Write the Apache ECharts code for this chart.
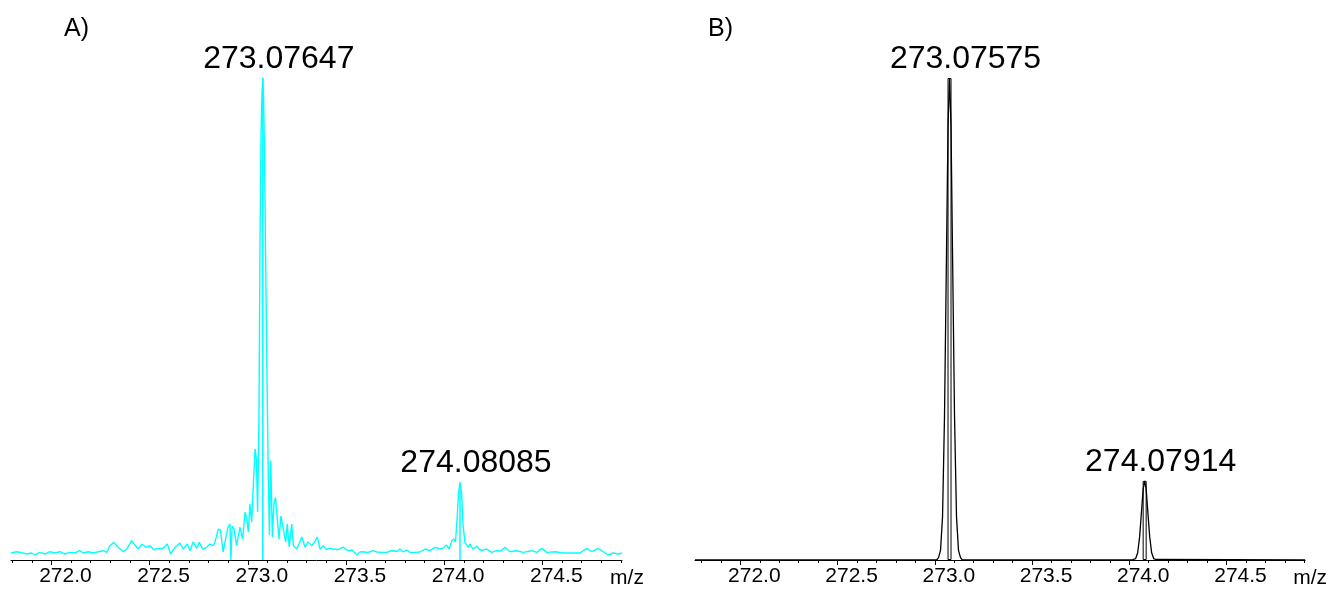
<!DOCTYPE html>
<html><head><meta charset="utf-8">
<script src="https://cdn.jsdelivr.net/npm/echarts@6/dist/echarts.min.js"></script>
<style>html,body{margin:0;padding:0;background:#fff}#c{width:1330px;height:589px}</style>
</head><body><div id="c"></div>
<script>
const panelTitles = ['A)', 'B)'];
const axisName = 'm/z';
const tickValues = [272.0, 272.5, 273.0, 273.5, 274.0, 274.5];
const minorTickValues = [271.8, 271.9, 272.1, 272.2, 272.3, 272.4, 272.6, 272.7, 272.8, 272.9,
  273.1, 273.2, 273.3, 273.4, 273.6, 273.7, 273.8, 273.9, 274.1, 274.2, 274.3, 274.4, 274.6, 274.7, 274.8, 274.9];

// Panel A: measured spectrum (m/z, relative intensity %)
const spectrumA = [
 [271.794,1.45],[271.797,1.45],[271.823,1.72],[271.843,1.59],[271.874,1.24],[271.899,1.45],[271.916,1.04],
 [271.941,1.59],[271.967,1.24],[271.992,1.72],[272.018,1.45],[272.043,1.72],[272.069,1.24],[272.094,1.59],
 [272.120,1.45],[272.142,1.93],[272.162,1.45],[272.187,1.72],[272.213,1.45],[272.238,1.72],[272.264,1.93],
 [272.281,1.59],[272.298,2.96],[272.318,3.66],[272.340,2.63],[272.366,1.72],[272.383,2.28],[272.409,4.0],
 [272.425,3.1],[272.442,2.28],[272.460,3.31],[272.480,2.63],[272.502,2.96],[272.522,2.13],[272.544,2.42],
 [272.570,2.42],[272.590,3.31],[272.607,1.24],[272.629,2.63],[272.655,3.52],[272.671,2.28],[272.692,3.31],
 [272.706,1.93],[272.722,3.79],[272.740,2.42],[272.753,3.66],[272.770,2.28],[272.791,2.63],[272.807,3.31],
 [272.824,2.96],[272.833,3.73],[272.850,6.42],[272.861,6.21],[272.874,1.66],[272.886,4.14],[272.899,6.83],
 [272.909,7.45],[272.914,0],[272.920,7.04],[272.930,6.42],[272.943,2.96],[272.960,6.83],[272.974,4.35],
 [272.986,9.94],[272.994,8.9],[273.003,5.8],[273.011,11.6],[273.020,7.87],[273.026,13.7],[273.037,23.0],
 [273.044,20.9],[273.050,9.94],[273.057,29.2],[273.062,64.4],[273.067,87.2],[273.072,96.5],[273.0765,100],
 [273.080,96.5],[273.085,85.1],[273.091,62.3],[273.098,37.5],[273.104,18.8],[273.110,5.18],[273.117,20.6],
 [273.125,4.76],[273.133,11.6],[273.141,13.0],[273.149,12.6],[273.159,4.35],[273.169,9.17],[273.179,8.9],
 [273.193,3.73],[273.201,7.45],[273.211,2.69],[273.224,7.45],[273.232,2.96],[273.249,2.28],[273.261,3.31],
 [273.275,4.76],[273.291,2.69],[273.307,3.73],[273.326,2.96],[273.337,3.52],[273.354,4.76],[273.368,2.28],
 [273.383,2.96],[273.402,2.13],[273.419,2.48],[273.434,2.28],[273.459,2.13],[273.486,2.69],[273.510,1.93],
 [273.531,2.07],[273.555,1.04],[273.572,1.66],[273.587,1.72],[273.612,1.55],[273.638,1.93],[273.658,1.66],
 [273.682,1.59],[273.708,1.59],[273.724,1.86],[273.741,1.93],[273.760,1.76],[273.775,2.28],[273.791,1.66],
 [273.809,2.07],[273.826,1.59],[273.852,1.59],[273.877,1.66],[273.903,2.28],[273.928,1.93],[273.954,2.63],
 [273.979,2.28],[273.994,2.48],[274.013,3.1],[274.026,2.28],[274.039,4.0],[274.050,4.35],[274.058,3.73],
 [274.066,8.49],[274.073,13.7],[274.0809,16.1],[274.089,13.7],[274.096,7.45],[274.106,3.66],[274.115,3.66],
 [274.123,2.63],[274.132,3.31],[274.146,2.28],[274.166,2.84],[274.178,2.28],[274.191,1.93],[274.217,2.28],
 [274.242,1.59],[274.268,1.93],[274.290,1.86],[274.310,2.63],[274.336,1.72],[274.370,1.93],[274.403,1.59],
 [274.446,1.93],[274.472,1.59],[274.497,2.42],[274.523,1.59],[274.565,1.72],[274.606,1.45],[274.658,1.45],
 [274.692,1.45],[274.726,2.42],[274.752,1.72],[274.785,2.42],[274.811,1.72],[274.836,1.04],[274.862,1.45],
 [274.887,1.24],[274.906,1.45]
];
const centroidsA = [[273.07647, 100], [274.08085, 16.1]];

// Panel B: theoretical spectrum (m/z, relative intensity %)
const spectrumB = [
 [271.767,0],[273.0090,0],[273.0192,0.5],[273.0295,2],[273.0398,9],[273.0500,30],[273.0603,64],[273.0680,90],
 [273.0757,100],[273.0834,90],[273.0911,64],[273.1014,30],[273.1116,9],[273.1219,2],[273.1322,0.5],[273.1424,0],
 [274.0124,0],[274.0226,0.1],[274.0329,0.3],[274.0432,1.5],[274.0534,4.9],[274.0637,10.5],[274.0714,14.7],
 [274.0791,16.4],[274.0868,14.7],[274.0945,10.5],[274.1048,4.9],[274.1150,1.5],[274.1253,0.3],[274.1356,0.1],
 [274.1458,0],[274.904,0]
];
const centroidsB = [[273.07575, 100], [274.07914, 16.4]];

const rangeA = [271.794, 274.906];
const rangeB = [271.767, 274.904];

function hasFont(name) {
  const c = document.createElement('canvas').getContext('2d');
  c.font = '40px monospace';
  const w0 = c.measureText('273.07647 A)').width;
  c.font = '40px "' + name + '", monospace';
  return c.measureText('273.07647 A)').width !== w0;
}
const narrow = hasFont('Liberation Sans Narrow');
const peakFont = narrow ? "'Liberation Sans Narrow'" : "'Liberation Sans'";
const peakSize = narrow ? 39 : 32;
const tickFont = "'Liberation Sans', Arial, sans-serif";

function xAxes(gridIndex, range) {
  return [{
    type: 'value', gridIndex, min: range[0], max: range[1], position: 'bottom',
    axisLine: { show: true, lineStyle: { color: '#000', width: 1 } },
    axisTick: { show: true, customValues: tickValues, length: 5, lineStyle: { color: '#000' } },
    axisLabel: { show: true, customValues: tickValues, formatter: v => v.toFixed(1), fontSize: 21,
      color: '#000', fontFamily: tickFont, margin: 6, padding: [0, 0, 0, 28] },
    splitLine: { show: false },
    name: axisName, nameLocation: 'end', nameGap: 5,
    nameTextStyle: { fontSize: 21, color: '#000', fontFamily: tickFont, align: 'center', verticalAlign: 'top', padding: [8, 0, 0, 0] }
  }, {
    type: 'value', gridIndex, min: range[0], max: range[1], position: 'bottom',
    axisLine: { show: false },
    axisTick: { show: true, customValues: minorTickValues, length: 3, lineStyle: { color: '#000' } },
    axisLabel: { show: false }, splitLine: { show: false }
  }];
}
function yAxis(gridIndex) {
  return { type: 'value', gridIndex, min: 0, max: 100, show: false, splitLine: { show: false } };
}
function peakLabel() {
  return { show: true, position: 'top', distance: 3, offset: [16, 0], formatter: p => p.value[0].toFixed(5),
    fontFamily: peakFont, fontSize: peakSize, color: '#000' };
}

const chart = echarts.init(document.getElementById('c'), null, { renderer: 'canvas' });
chart.setOption({
  animation: false,
  backgroundColor: '#fff',
  title: [
    { text: panelTitles[0], left: 64, top: 17, padding: 0, textStyle: { fontFamily: peakFont, fontSize: 25, fontWeight: 'normal', color: '#000' } },
    { text: panelTitles[1], left: 708, top: 17, padding: 0, textStyle: { fontFamily: peakFont, fontSize: 25, fontWeight: 'normal', color: '#000' } }
  ],
  grid: [
    { left: 11, width: 611, top: 78, bottom: 28 },
    { left: 695, width: 611, top: 78, bottom: 28 }
  ],
  xAxis: [...xAxes(0, rangeA), ...xAxes(1, rangeB)],
  yAxis: [yAxis(0), yAxis(1)],
  series: [
    { type: 'bar', xAxisIndex: 0, yAxisIndex: 0, data: centroidsA, barWidth: 1.5,
      itemStyle: { color: '#00ffff' }, label: peakLabel(), silent: true, z: 2 },
    { type: 'line', xAxisIndex: 0, yAxisIndex: 0, data: spectrumA, showSymbol: false,
      lineStyle: { color: '#00ffff', width: 1.4 }, silent: true, z: 3 },
    { type: 'bar', xAxisIndex: 2, yAxisIndex: 1, data: centroidsB, barWidth: 4,
      itemStyle: { color: 'rgba(255,255,255,0)', borderColor: '#000', borderWidth: 1 }, label: peakLabel(), silent: true, z: 2 },
    { type: 'line', xAxisIndex: 2, yAxisIndex: 1, data: spectrumB, showSymbol: false,
      lineStyle: { color: '#000', width: 1.3 }, silent: true, z: 3 }
  ]
});
</script></body></html>
